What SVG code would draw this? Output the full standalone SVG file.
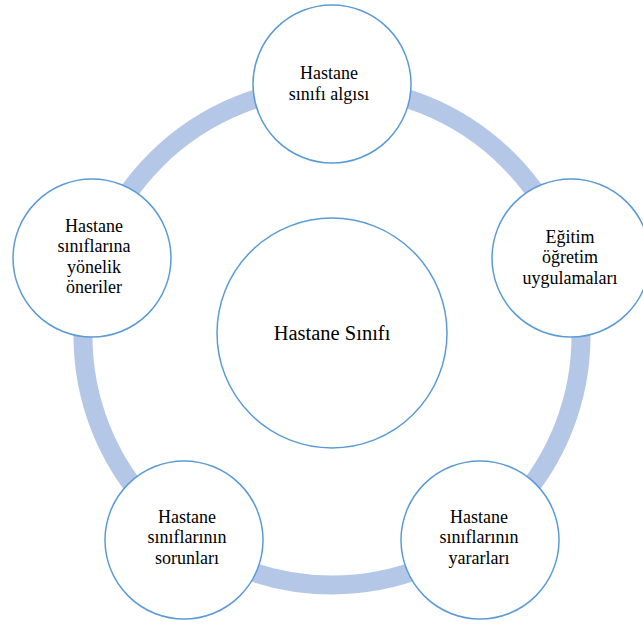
<svg xmlns="http://www.w3.org/2000/svg" width="643" height="624" viewBox="0 0 643 624">
<style>
.node{fill:#ffffff;stroke:#5b9bd5;stroke-width:1.5}
.ring{fill:none;stroke:#b4c7e7;stroke-width:19}
text{font-family:"Liberation Serif","Times New Roman",serif;font-size:18px;fill:#000000;text-anchor:middle}
.big{font-size:20.5px}
</style>
<rect width="643" height="624" fill="#ffffff"/>
<g id="connectors">
<circle class="ring" cx="332" cy="336" r="249"/>
</g>
<g id="center">
<circle class="node" cx="332" cy="333" r="115"/>
<text class="big" x="332" y="340">Hastane Sınıfı</text>
</g>
<g id="n-top">
<circle class="node" cx="332" cy="84" r="79"/>
<text x="329" y="79">Hastane</text>
<text x="329" y="100">sınıfı algısı</text>
</g>
<g id="n-right">
<circle class="node" cx="571" cy="258" r="79"/>
<text x="570" y="243">Eğitim</text>
<text x="570" y="263">öğretim</text>
<text x="570" y="284">uygulamaları</text>
</g>
<g id="n-bottom-right">
<circle class="node" cx="480" cy="540" r="79"/>
<text x="479" y="523">Hastane</text>
<text x="479" y="543">sınıflarının</text>
<text x="479" y="564">yararları</text>
</g>
<g id="n-bottom-left">
<circle class="node" cx="184" cy="540" r="79"/>
<text x="187" y="523">Hastane</text>
<text x="187" y="543">sınıflarının</text>
<text x="187" y="564">sorunları</text>
</g>
<g id="n-left">
<circle class="node" cx="92" cy="258" r="79"/>
<text x="94" y="232">Hastane</text>
<text x="94" y="252">sınıflarına</text>
<text x="94" y="273">yönelik</text>
<text x="94" y="293">öneriler</text>
</g>
</svg>
